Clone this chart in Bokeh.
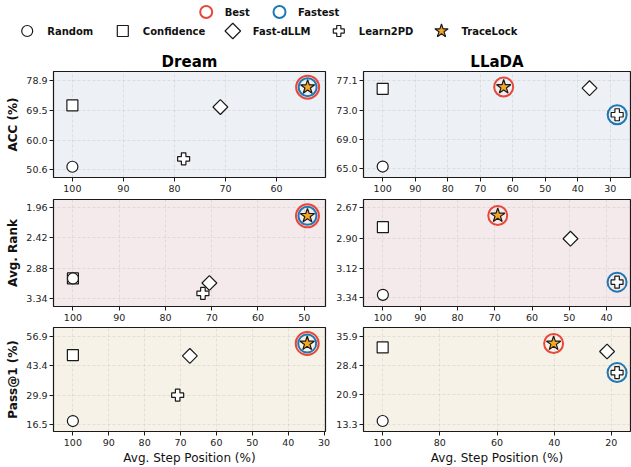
import numpy as np
from bokeh.plotting import figure
from bokeh.layouts import column, row
from bokeh.models import Range1d, FixedTicker, NumeralTickFormatter
from bokeh.core.properties import value
from bokeh.embed import file_html
from bokeh.resources import INLINE

# ---------------- data ----------------
methods = ["Random", "Confidence", "Fast-dLLM", "Learn2PD", "TraceLock"]

dream_acc_step = [100, 100, 71.0, 78.2, 53.9]
dream_acc = [51.6, 71.0, 70.5, 54.1, 76.8]
dream_rank_step = [100, 100, 70.5, 71.9, 49.3]
dream_rank = [3.04, 3.04, 3.11, 3.27, 2.08]
dream_pass_step = [100, 100, 67.4, 70.8, 34.7]
dream_pass = [18.0, 48.3, 47.9, 29.9, 53.6]

llada_acc_step = [100, 100, 36.4, 27.9, 62.8]
llada_acc = [65.3, 75.96, 76.05, 72.4, 76.2]
llada_rank_step = [100, 100, 49.7, 37.2, 69.2]
llada_rank = [3.318, 2.814, 2.90, 3.224, 2.727]
llada_pass_step = [100, 100, 21.5, 18.0, 40.2]
llada_pass = [14.16, 33.05, 32.0, 26.6, 34.06]

dream_acc_ticks = [50.6, 60.0, 69.5, 78.9]
llada_acc_ticks = [65.0, 69.0, 73.0, 77.1]
dream_rank_ticks = [1.96, 2.42, 2.88, 3.34]
llada_rank_ticks = [2.67, 2.90, 3.12, 3.34]
dream_pass_ticks = [16.5, 29.9, 43.4, 56.9]
llada_pass_ticks = [13.3, 20.9, 28.4, 35.9]

dream_acc_xticks = [100, 90, 80, 70, 60]
llada_acc_xticks = [100, 90, 80, 70, 60, 50, 40, 30]
dream_rank_xticks = [100, 90, 80, 70, 60, 50]
llada_rank_xticks = [100, 90, 80, 70, 60, 50, 40]
dream_pass_xticks = [100, 90, 80, 70, 60, 50, 40, 30]
llada_pass_xticks = [100, 80, 60, 40, 20]

# ---------------- style ----------------
FONT = "DejaVu Sans"
INK = "#1a1a1a"
RED = "#e8473a"
BLUE = "#1f77b4"
STAR = "#f5a623"
MK = {
    "Random": dict(marker="circle", angle=0.0, size=11, fill="white"),
    "Confidence": dict(marker="square", angle=0.0, size=11, fill="white"),
    "Fast-dLLM": dict(marker="square", angle=np.pi / 4, size=10.5, fill="white"),
    "Learn2PD": dict(marker="plus", angle=0.0, size=12, fill="white"),
    "TraceLock": dict(marker="star", angle=0.0, size=15, fill=STAR),
}
DRAW_ORDER = ["Confidence", "Random", "Fast-dLLM", "Learn2PD", "TraceLock"]


def panel(col, steps, vals, xr, yr, xticks, yticks, yfmt, bg, top, frame_h, bottom,
          title=None, ylabel=None, xlabel=None, higher_better=True):
    left = 53 if col == 0 else 30
    width = 333 if col == 0 else 298
    right = 8 if col == 0 else 1
    p = figure(width=width, height=top + frame_h + bottom,
               x_range=Range1d(*xr), y_range=Range1d(*yr),
               output_backend="svg", toolbar_location=None, tools="",
               min_border_left=left, min_border_right=right,
               min_border_top=top, min_border_bottom=bottom,
               background_fill_color=bg, border_fill_color="white",
               outline_line_color=INK, outline_line_width=1.2)
    if title:
        p.title.text = title
        p.title.align = "center"
        p.title.text_font = FONT
        p.title.text_font_size = "15px"
        p.title.text_font_style = "bold"
        p.title.text_color = "black"
        p.title.standoff = 1
    p.grid.grid_line_color = "#bdbdbd"
    p.grid.grid_line_alpha = 0.45
    p.grid.grid_line_dash = "3 2"
    p.grid.grid_line_width = 0.8
    p.xgrid.ticker = FixedTicker(ticks=xticks)
    p.ygrid.ticker = FixedTicker(ticks=yticks)
    for ax in (p.xaxis[0], p.yaxis[0]):
        ax.axis_line_color = None
        ax.major_tick_line_color = INK
        ax.major_tick_out = 4
        ax.major_tick_in = 0
        ax.minor_tick_line_color = None
        ax.major_label_text_font = FONT
        ax.major_label_text_font_size = "9.5px"
        ax.major_label_text_color = "#222222"
        ax.axis_label_text_font = FONT
        ax.axis_label_text_color = "#111111"
        ax.axis_label_standoff = 3
    p.xaxis.ticker = FixedTicker(ticks=xticks)
    p.xaxis.major_label_standoff = 3
    p.xaxis.axis_label_standoff = 2
    p.yaxis.ticker = FixedTicker(ticks=yticks)
    p.yaxis.formatter = NumeralTickFormatter(format=yfmt)
    p.yaxis.major_label_standoff = 2
    if ylabel:
        p.yaxis.axis_label = ylabel
        p.yaxis.axis_label_text_font_size = "12px"
        p.yaxis.axis_label_text_font_style = "bold"
    if xlabel:
        p.xaxis.axis_label = xlabel
        p.xaxis.axis_label_text_font_size = "12px"
        p.xaxis.axis_label_text_font_style = "normal"

    best = int(np.argmax(vals)) if higher_better else int(np.argmin(vals))
    fastest = int(np.argmin(steps))
    if best == fastest:
        rings = [(best, RED, 23), (fastest, BLUE, 18)]
    else:
        rings = [(best, RED, 19), (fastest, BLUE, 19)]
    for i, color, size in rings:
        p.scatter(x=[steps[i]], y=[vals[i]], marker="circle", size=size,
                  fill_color=None, line_color=color, line_width=2)
    for name in DRAW_ORDER:
        i = methods.index(name)
        m = MK[name]
        p.scatter(x=[steps[i]], y=[vals[i]], marker=m["marker"], angle=m["angle"],
                  size=m["size"], fill_color=m["fill"], line_color=INK, line_width=1.2)
    return p


BG1, BG2, BG3 = "#edf1f5", "#f4eaeb", "#f7f2e8"

d1 = panel(0, dream_acc_step, dream_acc, (103.7, 50.4), (48.2, 81.75), dream_acc_xticks,
           dream_acc_ticks, "0.0", BG1, 26, 106, 20, title="Dream", ylabel="ACC (%)")
l1 = panel(1, llada_acc_step, llada_acc, (105.9, 23.8), (63.8, 78.33), llada_acc_xticks,
           llada_acc_ticks, "0.0", BG1, 26, 106, 20, title="LLaDA")
d2 = panel(0, dream_rank_step, dream_rank, (104.2, 45.4), (3.47, 1.83), dream_rank_xticks,
           dream_rank_ticks, "0.00", BG2, 2, 107, 19, ylabel="Avg. Rank", higher_better=False)
l2 = panel(1, llada_rank_step, llada_rank, (105.2, 33.6), (3.405, 2.608), llada_rank_xticks,
           llada_rank_ticks, "0.00", BG2, 2, 107, 19, higher_better=False)
d3 = panel(0, dream_pass_step, dream_pass, (105.4, 29.6), (13.2, 60.95), dream_pass_xticks,
           dream_pass_ticks, "0.0", BG3, 2, 106, 34, ylabel="Pass@1 (%)",
           xlabel="Avg. Step Position (%)")
l3 = panel(1, llada_pass_step, llada_pass, (106.7, 13.3), (11.46, 38.17), llada_pass_xticks,
           llada_pass_ticks, "0.0", BG3, 2, 106, 34, xlabel="Avg. Step Position (%)")

# ---------------- legend ----------------
LEG_W, LEG_H = 631, 45
leg = figure(width=LEG_W, height=LEG_H, x_range=Range1d(0, LEG_W), y_range=Range1d(LEG_H, 0),
             output_backend="svg", toolbar_location=None, tools="",
             min_border=0, outline_line_color=None, border_fill_color="white",
             background_fill_color="white")
leg.axis.visible = False
leg.grid.visible = False

ring_labels = ["Best", "Fastest"]
ring_colors = [RED, BLUE]
ring_x = [205.7, 279.0]
ring_y = 11.5
leg.scatter(x=ring_x, y=[ring_y] * 2, marker="circle", size=12, fill_color=None,
            line_color=ring_colors, line_width=2)
leg.text(x=[x + 18.5 for x in ring_x], y=[ring_y] * 2, text=ring_labels,
         text_font=value(FONT), text_font_size="10px", text_font_style="bold",
         text_baseline="middle", text_align="left", text_color="#111111")

meth_x = [26.7, 122.3, 232.3, 338.3, 441.0]
meth_y = 30.5
leg_sizes = [11, 11, 11, 11, 14]
for name, x, sz in zip(methods, meth_x, leg_sizes):
    m = MK[name]
    leg.scatter(x=[x], y=[meth_y], marker=m["marker"], angle=m["angle"], size=sz,
                fill_color=m["fill"], line_color=INK, line_width=1.2)
leg.text(x=[x + 20 for x in meth_x], y=[meth_y] * len(methods), text=methods,
         text_font=value(FONT), text_font_size="10px", text_font_style="bold",
         text_baseline="middle", text_align="left", text_color="#111111")

layout = column(leg, row(d1, l1), row(d2, l2), row(d3, l3))

open("out.html", "w").write(file_html(layout, INLINE))
